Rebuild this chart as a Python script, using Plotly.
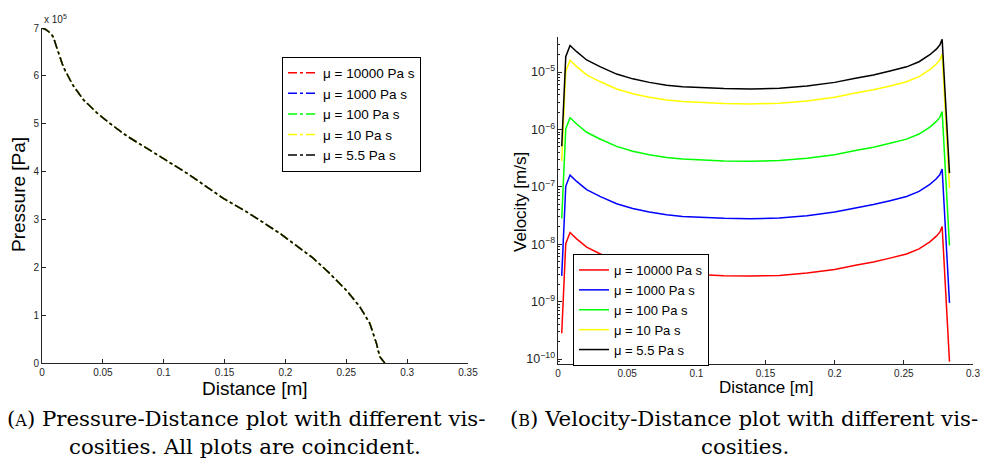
import plotly.graph_objects as go

# ---------------- data ----------------
mu_labels = ["μ = 10000 Pa s", "μ = 1000 Pa s", "μ = 100 Pa s", "μ = 10 Pa s", "μ = 5.5 Pa s"]
colors = ["#ff0000", "#0000ff", "#00ff00", "#ffff00", "#000000"]

# (a) pressure vs distance (all viscosities coincide)
dist_p = [0, 0.003, 0.0066, 0.0093, 0.012, 0.0175, 0.025, 0.034, 0.045, 0.056, 0.07, 0.0887,
          0.1, 0.12, 0.149, 0.168, 0.1954, 0.2228, 0.2365, 0.25, 0.261, 0.2693, 0.2748,
          0.2775, 0.2816]
pressure = [7.0e5, 6.97e5, 6.9e5, 6.81e5, 6.6e5, 6.19e5, 5.82e5, 5.5e5, 5.23e5, 5.0e5, 4.74e5,
            4.45e5, 4.26e5, 3.95e5, 3.44e5, 3.16e5, 2.71e5, 2.19e5, 1.87e5, 1.52e5, 1.18e5,
            0.83e5, 0.41e5, 0.13e5, 0.0]

# (b) velocity vs distance
dist_v = [0.0027, 0.0056, 0.0087, 0.0135, 0.0207, 0.0303, 0.0424, 0.054, 0.066, 0.0785, 0.09,
          0.1026, 0.12, 0.139, 0.16, 0.18, 0.20, 0.215, 0.228, 0.24, 0.252, 0.261, 0.2688,
          0.2735, 0.276, 0.2777, 0.283]
v_10000 = [2.81e-10, 1.02e-8, 1.60e-8, 1.24e-8, 8.91e-9, 6.82e-9, 5.06e-9, 4.18e-9, 3.63e-9,
           3.25e-9, 3.05e-9, 2.94e-9, 2.83e-9, 2.78e-9, 2.86e-9, 3.14e-9, 3.63e-9, 4.29e-9,
           4.90e-9, 5.72e-9, 6.77e-9, 8.31e-9, 1.10e-8, 1.38e-8, 1.62e-8, 2.04e-8, 9.0e-11]
v_1000 = [2.81e-9, 1.02e-7, 1.60e-7, 1.24e-7, 8.91e-8, 6.82e-8, 5.06e-8, 4.18e-8, 3.63e-8,
          3.25e-8, 3.05e-8, 2.94e-8, 2.83e-8, 2.78e-8, 2.86e-8, 3.14e-8, 3.63e-8, 4.29e-8,
          4.90e-8, 5.72e-8, 6.77e-8, 8.31e-8, 1.10e-7, 1.38e-7, 1.62e-7, 2.04e-7, 9.5e-10]
v_100 = [2.81e-8, 1.02e-6, 1.60e-6, 1.24e-6, 8.91e-7, 6.82e-7, 5.06e-7, 4.18e-7, 3.63e-7,
         3.25e-7, 3.05e-7, 2.94e-7, 2.83e-7, 2.78e-7, 2.86e-7, 3.14e-7, 3.63e-7, 4.29e-7,
         4.90e-7, 5.72e-7, 6.77e-7, 8.31e-7, 1.10e-6, 1.38e-6, 1.62e-6, 2.04e-6, 9.5e-9]
v_10 = [2.81e-7, 1.02e-5, 1.60e-5, 1.24e-5, 8.91e-6, 6.82e-6, 5.06e-6, 4.18e-6, 3.63e-6,
        3.25e-6, 3.05e-6, 2.94e-6, 2.83e-6, 2.78e-6, 2.86e-6, 3.14e-6, 3.63e-6, 4.29e-6,
        4.90e-6, 5.72e-6, 6.77e-6, 8.31e-6, 1.10e-5, 1.38e-5, 1.62e-5, 2.04e-5, 9.5e-8]
v_5_5 = [5.1e-7, 1.85e-5, 2.9e-5, 2.26e-5, 1.62e-5, 1.24e-5, 9.2e-6, 7.6e-6, 6.6e-6, 5.9e-6,
         5.55e-6, 5.35e-6, 5.15e-6, 5.06e-6, 5.2e-6, 5.7e-6, 6.6e-6, 7.8e-6, 8.9e-6, 1.04e-5,
         1.23e-5, 1.51e-5, 2.0e-5, 2.5e-5, 2.95e-5, 3.7e-5, 1.73e-7]
velocities = [v_10000, v_1000, v_100, v_10, v_5_5]

x_ticks_a = [0, 0.05, 0.1, 0.15, 0.2, 0.25, 0.3, 0.35]
x_ticks_b = [0, 0.05, 0.1, 0.15, 0.2, 0.25, 0.3]
p_ticks = [0, 1e5, 2e5, 3e5, 4e5, 5e5, 6e5, 7e5]
p_ticktext = ["0", "1", "2", "3", "4", "5", "6", "7"]

# ---------------- figure ----------------
W, H = 981, 471
SANS = "Liberation Sans, Arial, sans-serif"
SERIF = "DejaVu Serif, serif"
AX = "#262626"

fig = go.Figure()

for lab, col in zip(mu_labels, colors):
    fig.add_trace(go.Scatter(
        x=dist_p, y=pressure, mode="lines", name=lab,
        line=dict(color=col, width=1.5, dash="dashdot"),
        xaxis="x", yaxis="y", legend="legend"))

for lab, col, v in zip(mu_labels, colors, velocities):
    fig.add_trace(go.Scatter(
        x=dist_v, y=v, mode="lines", name=lab,
        line=dict(color=col, width=1.5),
        xaxis="x2", yaxis="y2", legend="legend2"))

def px(xp):
    return xp / W

def py(yp):
    return 1 - yp / H

common_axis = dict(showline=True, linecolor=AX, linewidth=1, ticks="inside", ticklen=4,
                   tickcolor=AX, showgrid=False, zeroline=False, automargin=False,
                   tickfont=dict(family=SANS, size=10, color=AX))

fig.update_layout(
    template="none",
    width=W, height=H,
    margin=dict(l=0, r=0, t=0, b=0, pad=0, autoexpand=False),
    paper_bgcolor="white", plot_bgcolor="white",
    font=dict(family=SANS, color="black"),
    xaxis=dict(domain=[px(42), px(468)], range=[0, 0.35], anchor="y",
               tickvals=x_ticks_a, ticktext=[str(t) for t in x_ticks_a], **common_axis),
    yaxis=dict(domain=[py(363), py(28)], range=[0, 7e5], anchor="x",
               tickvals=p_ticks, ticktext=p_ticktext, **common_axis),
    xaxis2=dict(domain=[px(558), px(973)], range=[0, 0.3], anchor="y2",
                tickvals=x_ticks_b, ticktext=[str(t) for t in x_ticks_b], **common_axis),
    yaxis2=dict(domain=[py(364), py(37)], type="log", range=[-10.087, -4.39], anchor="x2",
                dtick=1, exponentformat="power", showexponent="all",
                minor=dict(ticks="inside", ticklen=2, tickcolor=AX, showgrid=False),
                **common_axis),
    legend=dict(x=px(282), y=py(114), xanchor="left", yanchor="middle",
                bordercolor="black", borderwidth=1, bgcolor="white",
                font=dict(family=SANS, size=13.5, color="black"), tracegroupgap=0,
                itemwidth=30),
    legend2=dict(x=px(573), y=py(310), xanchor="left", yanchor="middle",
                 bordercolor="black", borderwidth=1, bgcolor="white",
                 font=dict(family=SANS, size=13, color="black"), tracegroupgap=0,
                 itemwidth=30),
    showlegend=True,
)

annotations = [
    dict(text="x 10<sup>5</sup>", x=px(42), y=py(19), xanchor="left", yanchor="middle",
         font=dict(family=SANS, size=10, color=AX)),
    dict(text="Distance [m]", x=px(255), y=py(388), xanchor="center", yanchor="middle",
         font=dict(family=SANS, size=19, color="black")),
    dict(text="Pressure [Pa]", x=px(18), y=py(195), xanchor="center", yanchor="middle",
         textangle=-90, font=dict(family=SANS, size=19, color="black")),
    dict(text="Distance [m]", x=px(766), y=py(387), xanchor="center", yanchor="middle",
         font=dict(family=SANS, size=17, color="black")),
    dict(text="Velocity [m/s]", x=px(520), y=py(202), xanchor="center", yanchor="middle",
         textangle=-90, font=dict(family=SANS, size=17, color="black")),
    dict(text="(<span style='font-size:16px'>A</span>) Pressure-Distance plot with different vis-",
         x=px(246), y=py(418), xanchor="center", yanchor="middle",
         font=dict(family=SERIF, size=21.3, color="black")),
    dict(text="cosities. All plots are coincident.",
         x=px(245), y=py(446), xanchor="center", yanchor="middle",
         font=dict(family=SERIF, size=21.3, color="black")),
    dict(text="(<span style='font-size:16px'>B</span>) Velocity-Distance plot with different vis-",
         x=px(744), y=py(418), xanchor="center", yanchor="middle",
         font=dict(family=SERIF, size=21.3, color="black")),
    dict(text="cosities.",
         x=px(745), y=py(446), xanchor="center", yanchor="middle",
         font=dict(family=SERIF, size=21.3, color="black")),
]
for a in annotations:
    a.update(xref="paper", yref="paper", showarrow=False)
fig.update_layout(annotations=annotations)

fig.write_html("out.html")
